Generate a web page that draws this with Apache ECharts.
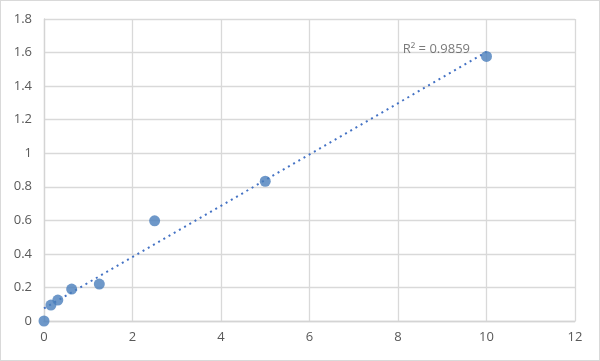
<!DOCTYPE html>
<html><head><meta charset="utf-8">
<script src="https://cdn.jsdelivr.net/npm/echarts@6/dist/echarts.min.js"></script>
<style>html,body{margin:0;padding:0;background:#fff}#c{width:600px;height:361px;box-sizing:border-box;border:1px solid #d9d9d9}</style>
</head><body><div id="c"></div>
<script>
var xValues = [0, 0.15625, 0.3125, 0.625, 1.25, 2.5, 5, 10];
var yValues = [0, 0.095, 0.125, 0.19, 0.22, 0.597, 0.833, 1.577];
var r2Label = 'R² = 0.9859';

var n = xValues.length, sx = 0, sy = 0, sxx = 0, sxy = 0;
for (var i = 0; i < n; i++) { sx += xValues[i]; sy += yValues[i]; sxx += xValues[i]*xValues[i]; sxy += xValues[i]*yValues[i]; }
var slope = (n*sxy - sx*sy) / (n*sxx - sx*sx);
var icpt = (sy - slope*sx) / n;
var xMin = xValues[0], xMax = xValues[n-1];
var trend = [[xMin, icpt + slope*xMin], [xMax, icpt + slope*xMax]];
var pts = xValues.map(function(x, i){ return [x, yValues[i]]; });

var chart = echarts.init(document.getElementById('c'));
var txt = {color:'#595959', fontSize:13, fontFamily:'Open Sans'};
chart.setOption({
  animation:false,
  grid:{left:43, right:24, top:18, bottom:39},
  xAxis:{type:'value', min:0, max:12, interval:2,
    axisLine:{show:true, lineStyle:{color:'#d4d4d4', width:1.3}}, axisTick:{show:false},
    splitLine:{show:true, lineStyle:{color:'#d9d9d9', width:1.3}},
    axisLabel:Object.assign({margin:10}, txt)},
  yAxis:{type:'value', min:0, max:1.8, interval:0.2,
    axisLine:{show:true, lineStyle:{color:'#d4d4d4', width:1.3}}, axisTick:{show:false},
    splitLine:{show:true, lineStyle:{color:'#d9d9d9', width:1.3}},
    axisLabel:Object.assign({margin:12, formatter:function(v){return String(+v.toFixed(1));}}, txt)},
  series:[
    {type:'line', data:trend, symbol:'none', z:2,
      lineStyle:{color:'#4472c4', width:2, type:[2,4]}},
    {type:'scatter', data:pts, symbolSize:11, z:3,
      itemStyle:{color:'#4a7ebb'}},
    {type:'scatter', data:[trend[1]], symbolSize:1, z:4, silent:true,
      itemStyle:{color:'rgba(0,0,0,0)'},
      label:{show:true, formatter:r2Label, position:'left', distance:16, offset:[0,-3],
        color:'#595959', fontSize:13, fontFamily:'Open Sans'}}
  ]
});
</script></body></html>
